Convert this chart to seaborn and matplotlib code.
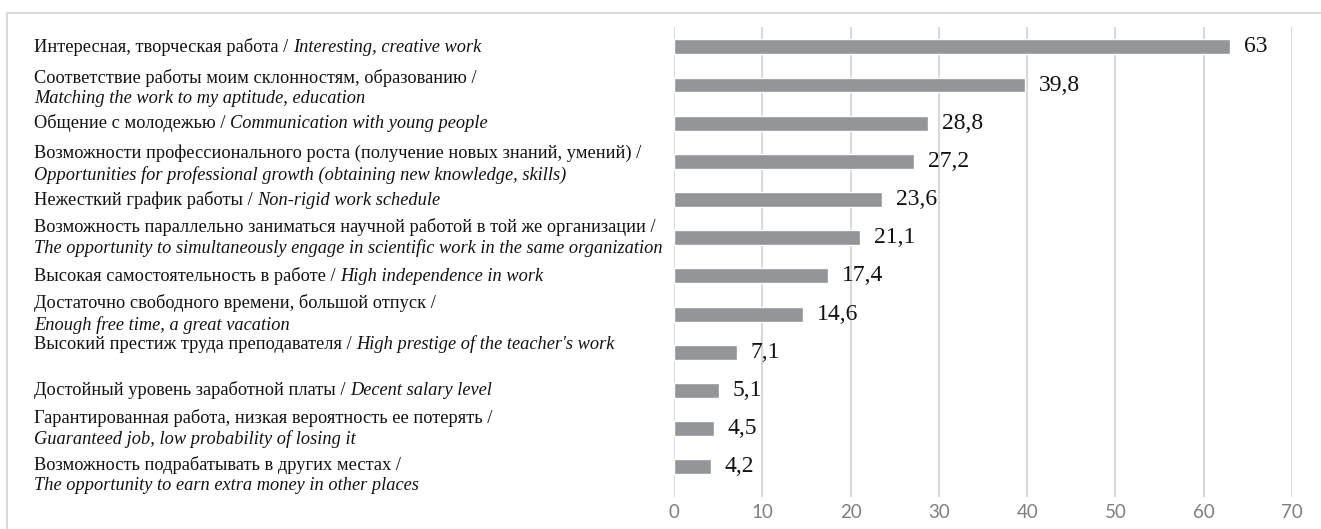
import matplotlib
matplotlib.use("Agg")
import matplotlib.pyplot as plt
import matplotlib.transforms as mtransforms
from matplotlib.offsetbox import TextArea, HPacker, VPacker, AnnotationBbox
from matplotlib.patches import Rectangle
import seaborn as sns
import pandas as pd

# Motives for choosing a teaching career, % of respondents
labels_ru = [
    "Интересная, творческая работа",
    "Соответствие работы моим склонностям, образованию",
    "Общение с молодежью",
    "Возможности профессионального роста (получение новых знаний, умений)",
    "Нежесткий график работы",
    "Возможность параллельно заниматься научной работой в той же организации",
    "Высокая самостоятельность в работе",
    "Достаточно свободного времени, большой отпуск",
    "Высокий престиж труда преподавателя",
    "Достойный уровень заработной платы",
    "Гарантированная работа, низкая вероятность ее потерять",
    "Возможность подрабатывать в других местах",
]
labels_en = [
    "Interesting, creative work",
    "Matching the work to my aptitude, education",
    "Communication with young people",
    "Opportunities for professional growth (obtaining new knowledge, skills)",
    "Non-rigid work schedule",
    "The opportunity to simultaneously engage in scientific work in the same organization",
    "High independence in work",
    "Enough free time, a great vacation",
    "High prestige of the teacher's work",
    "Decent salary level",
    "Guaranteed job, low probability of losing it",
    "The opportunity to earn extra money in other places",
]
values = [63, 39.8, 28.8, 27.2, 23.6, 21.1, 17.4, 14.6, 7.1, 5.1, 4.5, 4.2]
x_ticks = [0, 10, 20, 30, 40, 50, 60, 70]

# English translation on a separate line for the long items
wrapped = [False, True, False, True, False, True, False, True, False, False, True, True]
# small vertical nudges of the category labels (points, positive = up)
label_shift = [0, -2, 0, -2, 0, 0, 0, 0, 6, 0, 0, -6]

sns.set_theme(style="white")
plt.rcParams["font.family"] = ["Liberation Serif", "DejaVu Serif"]

W, H = 1321, 529
fig = plt.figure(figsize=(W / 100, H / 100), dpi=100)
ax = fig.add_axes([674 / W, 1 - 497 / H, (1292 - 674) / W, 470 / H])

df = pd.DataFrame({"item": labels_en, "value": values})
sns.barplot(data=df, x="value", y="item", orient="h", color="#939598",
            saturation=1, width=0.39, ax=ax, zorder=2)

ax.set_xlim(0, 70)
ax.set_ylim(11.79, -0.52)
ax.set_xticks(x_ticks)
ax.set_xticklabels([str(t) for t in x_ticks], family="Lato", fontsize=13.5,
                   color="#7f7f7f")
ax.tick_params(axis="x", length=0, pad=5)
ax.set_yticks([])
ax.set_xlabel("")
ax.set_ylabel("")
for s in ax.spines.values():
    s.set_visible(False)
ax.grid(axis="x", color="#d9d9d9", linewidth=1.5, zorder=0)
ax.set_axisbelow(True)

# value labels with a decimal comma
ax.bar_label(ax.containers[0],
             labels=[f"{v:g}".replace(".", ",") for v in values],
             padding=10, fontsize=17, color="#111111",
             family="Liberation Serif")

# category labels: Russian in roman, English translation in italics
reg = dict(fontfamily="Liberation Serif", fontsize=13.2, color="#111111")
ita = dict(reg, style="italic")
trans = mtransforms.blended_transform_factory(fig.transFigure, ax.transData)
for i, (ru, en) in enumerate(zip(labels_ru, labels_en)):
    if wrapped[i]:
        box = VPacker(children=[TextArea(ru + " /", textprops=reg),
                                TextArea(en, textprops=ita)],
                      align="left", pad=0, sep=2.5)
    else:
        box = HPacker(children=[TextArea(ru + " /", textprops=reg),
                                TextArea(en, textprops=ita)],
                      align="baseline", pad=0, sep=3.3)
    ab = AnnotationBbox(box, (34 / W, i), xycoords=trans,
                        xybox=(0, label_shift[i]), boxcoords="offset points",
                        box_alignment=(0, 0.5), frameon=False, pad=0,
                        annotation_clip=False)
    fig.add_artist(ab)

# light frame around the chart area
fig.add_artist(Rectangle((7 / W, -0.5), 2, 1.5 - 13 / H,
                         transform=fig.transFigure, fill=False,
                         edgecolor="#d9d9d9", linewidth=1.5))

fig.savefig("out.png", dpi=100)
